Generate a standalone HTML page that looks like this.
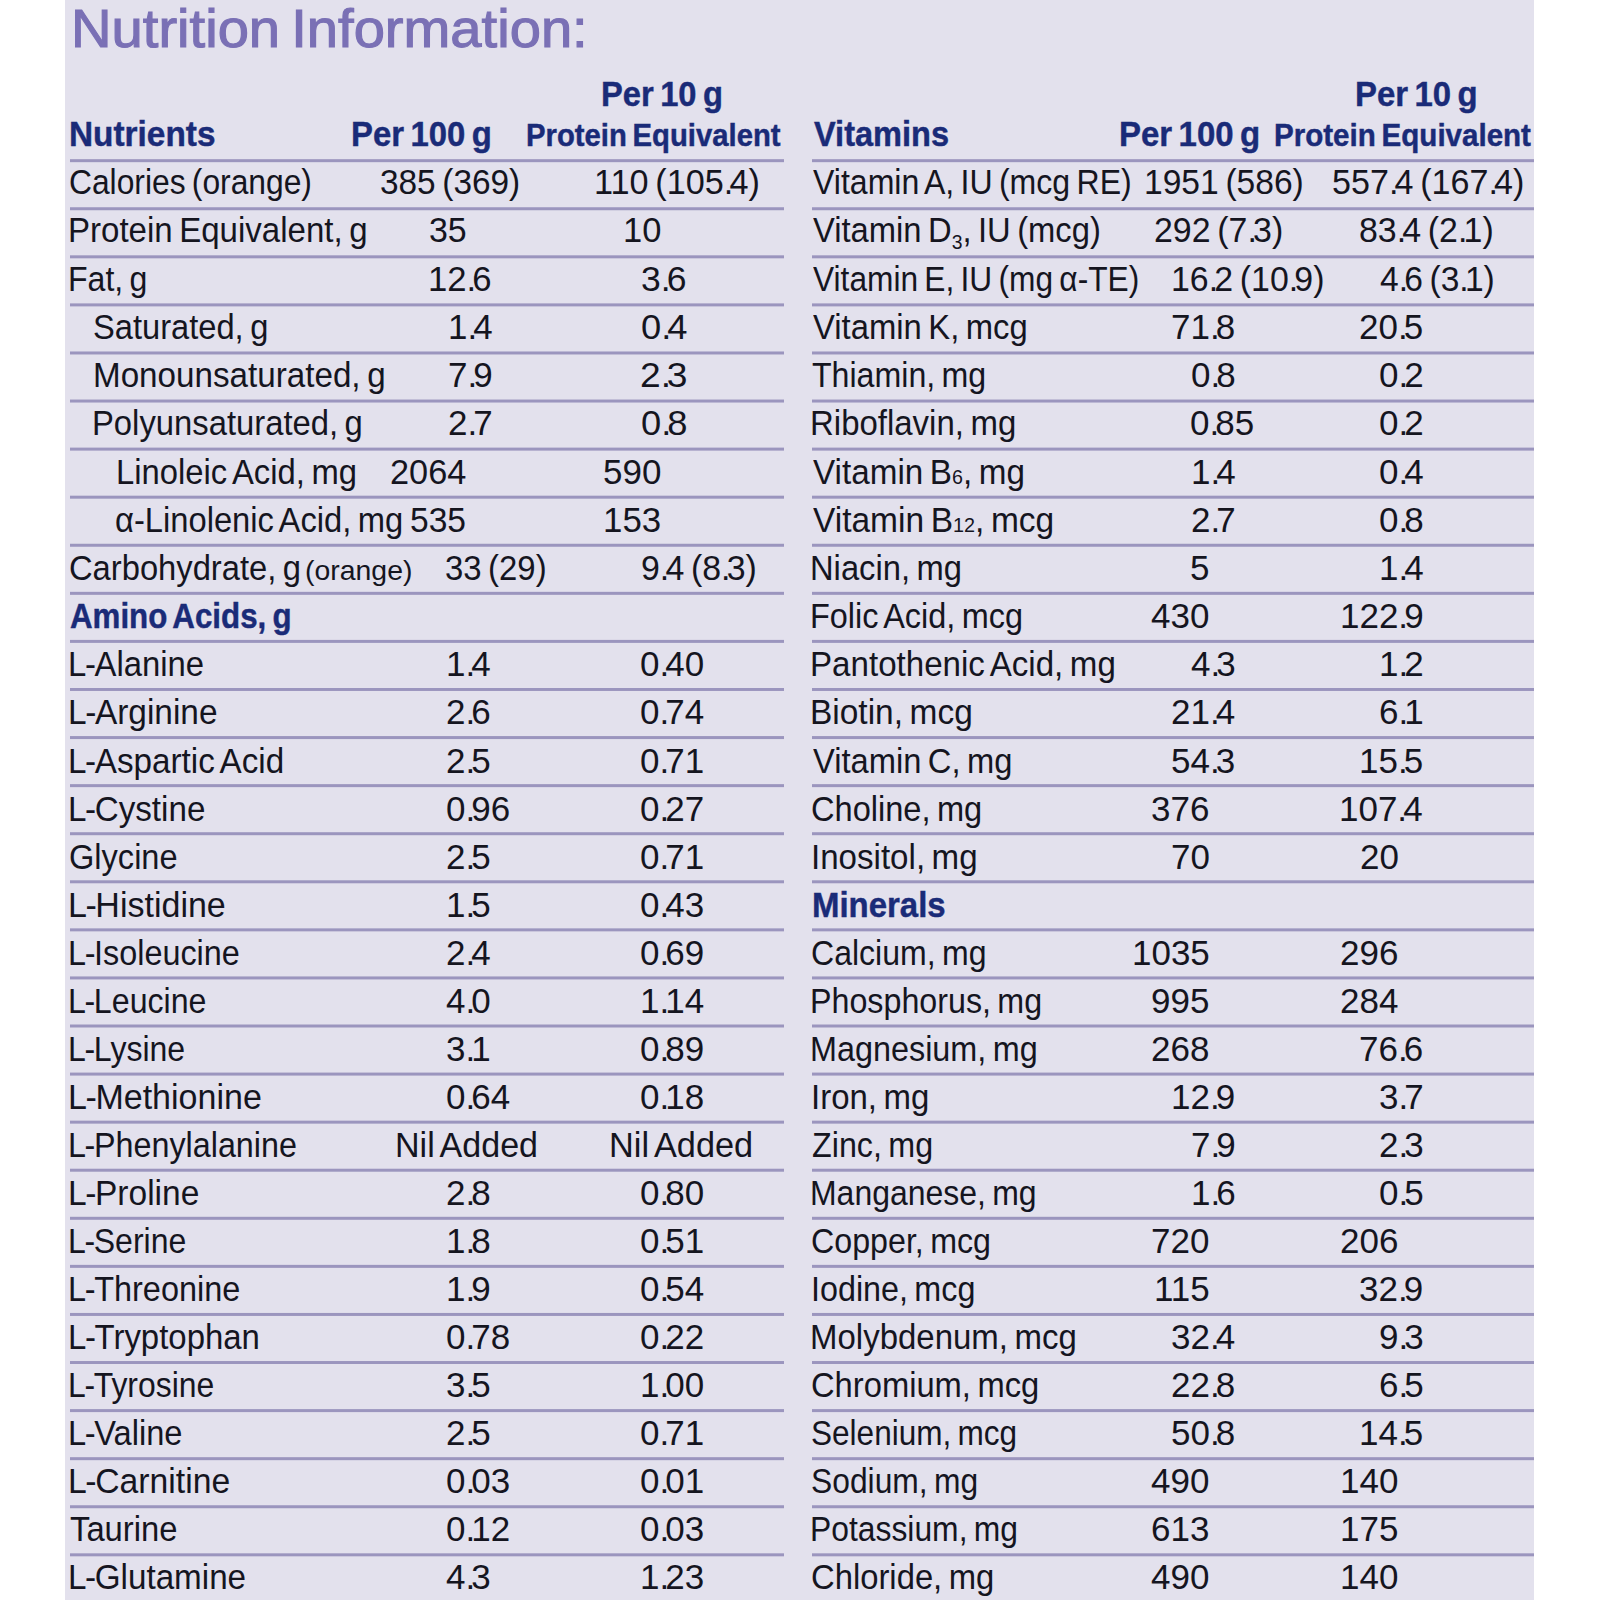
<!DOCTYPE html>
<html><head><meta charset="utf-8"><title>Nutrition Information</title>
<style>
html,body{margin:0;padding:0;background:#fff;width:1600px;height:1600px;overflow:hidden}
.panel{position:absolute;left:65px;top:0;width:1469px;height:1600px;background:#e3e1ed}
.t{position:absolute;white-space:pre;word-spacing:-0.08em;font-family:"Liberation Sans",Arial,sans-serif;transform-origin:0 0}
.ln{position:absolute;height:1px}
b{}
sub{font-size:21px;vertical-align:-7px;line-height:0}
.sm{font-size:21px}
.dp{letter-spacing:-4px}
.lh{letter-spacing:-1.5px}
</style></head><body>
<div class="panel"></div>
<div class=ln style='left:70px;top:159px;width:714px;background:rgba(155,149,190,0.83)'></div><div class=ln style='left:812px;top:159px;width:722px;background:rgba(155,149,190,0.83)'></div><div class=ln style='left:70px;top:160px;width:714px;background:rgba(155,149,190,1.00)'></div><div class=ln style='left:812px;top:160px;width:722px;background:rgba(155,149,190,1.00)'></div><div class=ln style='left:70px;top:161px;width:714px;background:rgba(155,149,190,1.00)'></div><div class=ln style='left:812px;top:161px;width:722px;background:rgba(155,149,190,1.00)'></div><div class=ln style='left:70px;top:162px;width:714px;background:rgba(155,149,190,0.17)'></div><div class=ln style='left:812px;top:162px;width:722px;background:rgba(155,149,190,0.17)'></div><div class=ln style='left:70px;top:207px;width:714px;background:rgba(155,149,190,0.76)'></div><div class=ln style='left:812px;top:207px;width:722px;background:rgba(155,149,190,0.76)'></div><div class=ln style='left:70px;top:208px;width:714px;background:rgba(155,149,190,1.00)'></div><div class=ln style='left:812px;top:208px;width:722px;background:rgba(155,149,190,1.00)'></div><div class=ln style='left:70px;top:209px;width:714px;background:rgba(155,149,190,1.00)'></div><div class=ln style='left:812px;top:209px;width:722px;background:rgba(155,149,190,1.00)'></div><div class=ln style='left:70px;top:210px;width:714px;background:rgba(155,149,190,0.24)'></div><div class=ln style='left:812px;top:210px;width:722px;background:rgba(155,149,190,0.24)'></div><div class=ln style='left:70px;top:255px;width:714px;background:rgba(155,149,190,0.68)'></div><div class=ln style='left:812px;top:255px;width:722px;background:rgba(155,149,190,0.68)'></div><div class=ln style='left:70px;top:256px;width:714px;background:rgba(155,149,190,1.00)'></div><div class=ln style='left:812px;top:256px;width:722px;background:rgba(155,149,190,1.00)'></div><div class=ln style='left:70px;top:257px;width:714px;background:rgba(155,149,190,1.00)'></div><div class=ln style='left:812px;top:257px;width:722px;background:rgba(155,149,190,1.00)'></div><div class=ln style='left:70px;top:258px;width:714px;background:rgba(155,149,190,0.32)'></div><div class=ln style='left:812px;top:258px;width:722px;background:rgba(155,149,190,0.32)'></div><div class=ln style='left:70px;top:303px;width:714px;background:rgba(155,149,190,0.61)'></div><div class=ln style='left:812px;top:303px;width:722px;background:rgba(155,149,190,0.61)'></div><div class=ln style='left:70px;top:304px;width:714px;background:rgba(155,149,190,1.00)'></div><div class=ln style='left:812px;top:304px;width:722px;background:rgba(155,149,190,1.00)'></div><div class=ln style='left:70px;top:305px;width:714px;background:rgba(155,149,190,1.00)'></div><div class=ln style='left:812px;top:305px;width:722px;background:rgba(155,149,190,1.00)'></div><div class=ln style='left:70px;top:306px;width:714px;background:rgba(155,149,190,0.39)'></div><div class=ln style='left:812px;top:306px;width:722px;background:rgba(155,149,190,0.39)'></div><div class=ln style='left:70px;top:351px;width:714px;background:rgba(155,149,190,0.53)'></div><div class=ln style='left:812px;top:351px;width:722px;background:rgba(155,149,190,0.53)'></div><div class=ln style='left:70px;top:352px;width:714px;background:rgba(155,149,190,1.00)'></div><div class=ln style='left:812px;top:352px;width:722px;background:rgba(155,149,190,1.00)'></div><div class=ln style='left:70px;top:353px;width:714px;background:rgba(155,149,190,1.00)'></div><div class=ln style='left:812px;top:353px;width:722px;background:rgba(155,149,190,1.00)'></div><div class=ln style='left:70px;top:354px;width:714px;background:rgba(155,149,190,0.47)'></div><div class=ln style='left:812px;top:354px;width:722px;background:rgba(155,149,190,0.47)'></div><div class=ln style='left:70px;top:399px;width:714px;background:rgba(155,149,190,0.46)'></div><div class=ln style='left:812px;top:399px;width:722px;background:rgba(155,149,190,0.46)'></div><div class=ln style='left:70px;top:400px;width:714px;background:rgba(155,149,190,1.00)'></div><div class=ln style='left:812px;top:400px;width:722px;background:rgba(155,149,190,1.00)'></div><div class=ln style='left:70px;top:401px;width:714px;background:rgba(155,149,190,1.00)'></div><div class=ln style='left:812px;top:401px;width:722px;background:rgba(155,149,190,1.00)'></div><div class=ln style='left:70px;top:402px;width:714px;background:rgba(155,149,190,0.54)'></div><div class=ln style='left:812px;top:402px;width:722px;background:rgba(155,149,190,0.54)'></div><div class=ln style='left:70px;top:447px;width:714px;background:rgba(155,149,190,0.39)'></div><div class=ln style='left:812px;top:447px;width:722px;background:rgba(155,149,190,0.39)'></div><div class=ln style='left:70px;top:448px;width:714px;background:rgba(155,149,190,1.00)'></div><div class=ln style='left:812px;top:448px;width:722px;background:rgba(155,149,190,1.00)'></div><div class=ln style='left:70px;top:449px;width:714px;background:rgba(155,149,190,1.00)'></div><div class=ln style='left:812px;top:449px;width:722px;background:rgba(155,149,190,1.00)'></div><div class=ln style='left:70px;top:450px;width:714px;background:rgba(155,149,190,0.61)'></div><div class=ln style='left:812px;top:450px;width:722px;background:rgba(155,149,190,0.61)'></div><div class=ln style='left:70px;top:495px;width:714px;background:rgba(155,149,190,0.31)'></div><div class=ln style='left:812px;top:495px;width:722px;background:rgba(155,149,190,0.31)'></div><div class=ln style='left:70px;top:496px;width:714px;background:rgba(155,149,190,1.00)'></div><div class=ln style='left:812px;top:496px;width:722px;background:rgba(155,149,190,1.00)'></div><div class=ln style='left:70px;top:497px;width:714px;background:rgba(155,149,190,1.00)'></div><div class=ln style='left:812px;top:497px;width:722px;background:rgba(155,149,190,1.00)'></div><div class=ln style='left:70px;top:498px;width:714px;background:rgba(155,149,190,0.69)'></div><div class=ln style='left:812px;top:498px;width:722px;background:rgba(155,149,190,0.69)'></div><div class=ln style='left:70px;top:543px;width:714px;background:rgba(155,149,190,0.24)'></div><div class=ln style='left:812px;top:543px;width:722px;background:rgba(155,149,190,0.24)'></div><div class=ln style='left:70px;top:544px;width:714px;background:rgba(155,149,190,1.00)'></div><div class=ln style='left:812px;top:544px;width:722px;background:rgba(155,149,190,1.00)'></div><div class=ln style='left:70px;top:545px;width:714px;background:rgba(155,149,190,1.00)'></div><div class=ln style='left:812px;top:545px;width:722px;background:rgba(155,149,190,1.00)'></div><div class=ln style='left:70px;top:546px;width:714px;background:rgba(155,149,190,0.76)'></div><div class=ln style='left:812px;top:546px;width:722px;background:rgba(155,149,190,0.76)'></div><div class=ln style='left:70px;top:591px;width:714px;background:rgba(155,149,190,0.16)'></div><div class=ln style='left:812px;top:591px;width:722px;background:rgba(155,149,190,0.16)'></div><div class=ln style='left:70px;top:592px;width:714px;background:rgba(155,149,190,1.00)'></div><div class=ln style='left:812px;top:592px;width:722px;background:rgba(155,149,190,1.00)'></div><div class=ln style='left:70px;top:593px;width:714px;background:rgba(155,149,190,1.00)'></div><div class=ln style='left:812px;top:593px;width:722px;background:rgba(155,149,190,1.00)'></div><div class=ln style='left:70px;top:594px;width:714px;background:rgba(155,149,190,0.84)'></div><div class=ln style='left:812px;top:594px;width:722px;background:rgba(155,149,190,0.84)'></div><div class=ln style='left:70px;top:639px;width:714px;background:rgba(155,149,190,0.09)'></div><div class=ln style='left:812px;top:639px;width:722px;background:rgba(155,149,190,0.09)'></div><div class=ln style='left:70px;top:640px;width:714px;background:rgba(155,149,190,1.00)'></div><div class=ln style='left:812px;top:640px;width:722px;background:rgba(155,149,190,1.00)'></div><div class=ln style='left:70px;top:641px;width:714px;background:rgba(155,149,190,1.00)'></div><div class=ln style='left:812px;top:641px;width:722px;background:rgba(155,149,190,1.00)'></div><div class=ln style='left:70px;top:642px;width:714px;background:rgba(155,149,190,0.91)'></div><div class=ln style='left:812px;top:642px;width:722px;background:rgba(155,149,190,0.91)'></div><div class=ln style='left:70px;top:688px;width:714px;background:rgba(155,149,190,1.00)'></div><div class=ln style='left:812px;top:688px;width:722px;background:rgba(155,149,190,1.00)'></div><div class=ln style='left:70px;top:689px;width:714px;background:rgba(155,149,190,1.00)'></div><div class=ln style='left:812px;top:689px;width:722px;background:rgba(155,149,190,1.00)'></div><div class=ln style='left:70px;top:690px;width:714px;background:rgba(155,149,190,0.98)'></div><div class=ln style='left:812px;top:690px;width:722px;background:rgba(155,149,190,0.98)'></div><div class=ln style='left:70px;top:736px;width:714px;background:rgba(155,149,190,0.94)'></div><div class=ln style='left:812px;top:736px;width:722px;background:rgba(155,149,190,0.94)'></div><div class=ln style='left:70px;top:737px;width:714px;background:rgba(155,149,190,1.00)'></div><div class=ln style='left:812px;top:737px;width:722px;background:rgba(155,149,190,1.00)'></div><div class=ln style='left:70px;top:738px;width:714px;background:rgba(155,149,190,1.00)'></div><div class=ln style='left:812px;top:738px;width:722px;background:rgba(155,149,190,1.00)'></div><div class=ln style='left:70px;top:739px;width:714px;background:rgba(155,149,190,0.06)'></div><div class=ln style='left:812px;top:739px;width:722px;background:rgba(155,149,190,0.06)'></div><div class=ln style='left:70px;top:784px;width:714px;background:rgba(155,149,190,0.87)'></div><div class=ln style='left:812px;top:784px;width:722px;background:rgba(155,149,190,0.87)'></div><div class=ln style='left:70px;top:785px;width:714px;background:rgba(155,149,190,1.00)'></div><div class=ln style='left:812px;top:785px;width:722px;background:rgba(155,149,190,1.00)'></div><div class=ln style='left:70px;top:786px;width:714px;background:rgba(155,149,190,1.00)'></div><div class=ln style='left:812px;top:786px;width:722px;background:rgba(155,149,190,1.00)'></div><div class=ln style='left:70px;top:787px;width:714px;background:rgba(155,149,190,0.13)'></div><div class=ln style='left:812px;top:787px;width:722px;background:rgba(155,149,190,0.13)'></div><div class=ln style='left:70px;top:832px;width:714px;background:rgba(155,149,190,0.79)'></div><div class=ln style='left:812px;top:832px;width:722px;background:rgba(155,149,190,0.79)'></div><div class=ln style='left:70px;top:833px;width:714px;background:rgba(155,149,190,1.00)'></div><div class=ln style='left:812px;top:833px;width:722px;background:rgba(155,149,190,1.00)'></div><div class=ln style='left:70px;top:834px;width:714px;background:rgba(155,149,190,1.00)'></div><div class=ln style='left:812px;top:834px;width:722px;background:rgba(155,149,190,1.00)'></div><div class=ln style='left:70px;top:835px;width:714px;background:rgba(155,149,190,0.21)'></div><div class=ln style='left:812px;top:835px;width:722px;background:rgba(155,149,190,0.21)'></div><div class=ln style='left:70px;top:880px;width:714px;background:rgba(155,149,190,0.72)'></div><div class=ln style='left:812px;top:880px;width:722px;background:rgba(155,149,190,0.72)'></div><div class=ln style='left:70px;top:881px;width:714px;background:rgba(155,149,190,1.00)'></div><div class=ln style='left:812px;top:881px;width:722px;background:rgba(155,149,190,1.00)'></div><div class=ln style='left:70px;top:882px;width:714px;background:rgba(155,149,190,1.00)'></div><div class=ln style='left:812px;top:882px;width:722px;background:rgba(155,149,190,1.00)'></div><div class=ln style='left:70px;top:883px;width:714px;background:rgba(155,149,190,0.28)'></div><div class=ln style='left:812px;top:883px;width:722px;background:rgba(155,149,190,0.28)'></div><div class=ln style='left:70px;top:928px;width:714px;background:rgba(155,149,190,0.65)'></div><div class=ln style='left:812px;top:928px;width:722px;background:rgba(155,149,190,0.65)'></div><div class=ln style='left:70px;top:929px;width:714px;background:rgba(155,149,190,1.00)'></div><div class=ln style='left:812px;top:929px;width:722px;background:rgba(155,149,190,1.00)'></div><div class=ln style='left:70px;top:930px;width:714px;background:rgba(155,149,190,1.00)'></div><div class=ln style='left:812px;top:930px;width:722px;background:rgba(155,149,190,1.00)'></div><div class=ln style='left:70px;top:931px;width:714px;background:rgba(155,149,190,0.35)'></div><div class=ln style='left:812px;top:931px;width:722px;background:rgba(155,149,190,0.35)'></div><div class=ln style='left:70px;top:976px;width:714px;background:rgba(155,149,190,0.57)'></div><div class=ln style='left:812px;top:976px;width:722px;background:rgba(155,149,190,0.57)'></div><div class=ln style='left:70px;top:977px;width:714px;background:rgba(155,149,190,1.00)'></div><div class=ln style='left:812px;top:977px;width:722px;background:rgba(155,149,190,1.00)'></div><div class=ln style='left:70px;top:978px;width:714px;background:rgba(155,149,190,1.00)'></div><div class=ln style='left:812px;top:978px;width:722px;background:rgba(155,149,190,1.00)'></div><div class=ln style='left:70px;top:979px;width:714px;background:rgba(155,149,190,0.43)'></div><div class=ln style='left:812px;top:979px;width:722px;background:rgba(155,149,190,0.43)'></div><div class=ln style='left:70px;top:1024px;width:714px;background:rgba(155,149,190,0.50)'></div><div class=ln style='left:812px;top:1024px;width:722px;background:rgba(155,149,190,0.50)'></div><div class=ln style='left:70px;top:1025px;width:714px;background:rgba(155,149,190,1.00)'></div><div class=ln style='left:812px;top:1025px;width:722px;background:rgba(155,149,190,1.00)'></div><div class=ln style='left:70px;top:1026px;width:714px;background:rgba(155,149,190,1.00)'></div><div class=ln style='left:812px;top:1026px;width:722px;background:rgba(155,149,190,1.00)'></div><div class=ln style='left:70px;top:1027px;width:714px;background:rgba(155,149,190,0.50)'></div><div class=ln style='left:812px;top:1027px;width:722px;background:rgba(155,149,190,0.50)'></div><div class=ln style='left:70px;top:1072px;width:714px;background:rgba(155,149,190,0.42)'></div><div class=ln style='left:812px;top:1072px;width:722px;background:rgba(155,149,190,0.42)'></div><div class=ln style='left:70px;top:1073px;width:714px;background:rgba(155,149,190,1.00)'></div><div class=ln style='left:812px;top:1073px;width:722px;background:rgba(155,149,190,1.00)'></div><div class=ln style='left:70px;top:1074px;width:714px;background:rgba(155,149,190,1.00)'></div><div class=ln style='left:812px;top:1074px;width:722px;background:rgba(155,149,190,1.00)'></div><div class=ln style='left:70px;top:1075px;width:714px;background:rgba(155,149,190,0.58)'></div><div class=ln style='left:812px;top:1075px;width:722px;background:rgba(155,149,190,0.58)'></div><div class=ln style='left:70px;top:1120px;width:714px;background:rgba(155,149,190,0.35)'></div><div class=ln style='left:812px;top:1120px;width:722px;background:rgba(155,149,190,0.35)'></div><div class=ln style='left:70px;top:1121px;width:714px;background:rgba(155,149,190,1.00)'></div><div class=ln style='left:812px;top:1121px;width:722px;background:rgba(155,149,190,1.00)'></div><div class=ln style='left:70px;top:1122px;width:714px;background:rgba(155,149,190,1.00)'></div><div class=ln style='left:812px;top:1122px;width:722px;background:rgba(155,149,190,1.00)'></div><div class=ln style='left:70px;top:1123px;width:714px;background:rgba(155,149,190,0.65)'></div><div class=ln style='left:812px;top:1123px;width:722px;background:rgba(155,149,190,0.65)'></div><div class=ln style='left:70px;top:1168px;width:714px;background:rgba(155,149,190,0.28)'></div><div class=ln style='left:812px;top:1168px;width:722px;background:rgba(155,149,190,0.28)'></div><div class=ln style='left:70px;top:1169px;width:714px;background:rgba(155,149,190,1.00)'></div><div class=ln style='left:812px;top:1169px;width:722px;background:rgba(155,149,190,1.00)'></div><div class=ln style='left:70px;top:1170px;width:714px;background:rgba(155,149,190,1.00)'></div><div class=ln style='left:812px;top:1170px;width:722px;background:rgba(155,149,190,1.00)'></div><div class=ln style='left:70px;top:1171px;width:714px;background:rgba(155,149,190,0.72)'></div><div class=ln style='left:812px;top:1171px;width:722px;background:rgba(155,149,190,0.72)'></div><div class=ln style='left:70px;top:1216px;width:714px;background:rgba(155,149,190,0.20)'></div><div class=ln style='left:812px;top:1216px;width:722px;background:rgba(155,149,190,0.20)'></div><div class=ln style='left:70px;top:1217px;width:714px;background:rgba(155,149,190,1.00)'></div><div class=ln style='left:812px;top:1217px;width:722px;background:rgba(155,149,190,1.00)'></div><div class=ln style='left:70px;top:1218px;width:714px;background:rgba(155,149,190,1.00)'></div><div class=ln style='left:812px;top:1218px;width:722px;background:rgba(155,149,190,1.00)'></div><div class=ln style='left:70px;top:1219px;width:714px;background:rgba(155,149,190,0.80)'></div><div class=ln style='left:812px;top:1219px;width:722px;background:rgba(155,149,190,0.80)'></div><div class=ln style='left:70px;top:1264px;width:714px;background:rgba(155,149,190,0.13)'></div><div class=ln style='left:812px;top:1264px;width:722px;background:rgba(155,149,190,0.13)'></div><div class=ln style='left:70px;top:1265px;width:714px;background:rgba(155,149,190,1.00)'></div><div class=ln style='left:812px;top:1265px;width:722px;background:rgba(155,149,190,1.00)'></div><div class=ln style='left:70px;top:1266px;width:714px;background:rgba(155,149,190,1.00)'></div><div class=ln style='left:812px;top:1266px;width:722px;background:rgba(155,149,190,1.00)'></div><div class=ln style='left:70px;top:1267px;width:714px;background:rgba(155,149,190,0.87)'></div><div class=ln style='left:812px;top:1267px;width:722px;background:rgba(155,149,190,0.87)'></div><div class=ln style='left:70px;top:1312px;width:714px;background:rgba(155,149,190,0.05)'></div><div class=ln style='left:812px;top:1312px;width:722px;background:rgba(155,149,190,0.05)'></div><div class=ln style='left:70px;top:1313px;width:714px;background:rgba(155,149,190,1.00)'></div><div class=ln style='left:812px;top:1313px;width:722px;background:rgba(155,149,190,1.00)'></div><div class=ln style='left:70px;top:1314px;width:714px;background:rgba(155,149,190,1.00)'></div><div class=ln style='left:812px;top:1314px;width:722px;background:rgba(155,149,190,1.00)'></div><div class=ln style='left:70px;top:1315px;width:714px;background:rgba(155,149,190,0.95)'></div><div class=ln style='left:812px;top:1315px;width:722px;background:rgba(155,149,190,0.95)'></div><div class=ln style='left:70px;top:1361px;width:714px;background:rgba(155,149,190,0.98)'></div><div class=ln style='left:812px;top:1361px;width:722px;background:rgba(155,149,190,0.98)'></div><div class=ln style='left:70px;top:1362px;width:714px;background:rgba(155,149,190,1.00)'></div><div class=ln style='left:812px;top:1362px;width:722px;background:rgba(155,149,190,1.00)'></div><div class=ln style='left:70px;top:1363px;width:714px;background:rgba(155,149,190,1.00)'></div><div class=ln style='left:812px;top:1363px;width:722px;background:rgba(155,149,190,1.00)'></div><div class=ln style='left:70px;top:1409px;width:714px;background:rgba(155,149,190,0.91)'></div><div class=ln style='left:812px;top:1409px;width:722px;background:rgba(155,149,190,0.91)'></div><div class=ln style='left:70px;top:1410px;width:714px;background:rgba(155,149,190,1.00)'></div><div class=ln style='left:812px;top:1410px;width:722px;background:rgba(155,149,190,1.00)'></div><div class=ln style='left:70px;top:1411px;width:714px;background:rgba(155,149,190,1.00)'></div><div class=ln style='left:812px;top:1411px;width:722px;background:rgba(155,149,190,1.00)'></div><div class=ln style='left:70px;top:1412px;width:714px;background:rgba(155,149,190,0.09)'></div><div class=ln style='left:812px;top:1412px;width:722px;background:rgba(155,149,190,0.09)'></div><div class=ln style='left:70px;top:1457px;width:714px;background:rgba(155,149,190,0.83)'></div><div class=ln style='left:812px;top:1457px;width:722px;background:rgba(155,149,190,0.83)'></div><div class=ln style='left:70px;top:1458px;width:714px;background:rgba(155,149,190,1.00)'></div><div class=ln style='left:812px;top:1458px;width:722px;background:rgba(155,149,190,1.00)'></div><div class=ln style='left:70px;top:1459px;width:714px;background:rgba(155,149,190,1.00)'></div><div class=ln style='left:812px;top:1459px;width:722px;background:rgba(155,149,190,1.00)'></div><div class=ln style='left:70px;top:1460px;width:714px;background:rgba(155,149,190,0.17)'></div><div class=ln style='left:812px;top:1460px;width:722px;background:rgba(155,149,190,0.17)'></div><div class=ln style='left:70px;top:1505px;width:714px;background:rgba(155,149,190,0.76)'></div><div class=ln style='left:812px;top:1505px;width:722px;background:rgba(155,149,190,0.76)'></div><div class=ln style='left:70px;top:1506px;width:714px;background:rgba(155,149,190,1.00)'></div><div class=ln style='left:812px;top:1506px;width:722px;background:rgba(155,149,190,1.00)'></div><div class=ln style='left:70px;top:1507px;width:714px;background:rgba(155,149,190,1.00)'></div><div class=ln style='left:812px;top:1507px;width:722px;background:rgba(155,149,190,1.00)'></div><div class=ln style='left:70px;top:1508px;width:714px;background:rgba(155,149,190,0.24)'></div><div class=ln style='left:812px;top:1508px;width:722px;background:rgba(155,149,190,0.24)'></div><div class=ln style='left:70px;top:1553px;width:714px;background:rgba(155,149,190,0.68)'></div><div class=ln style='left:812px;top:1553px;width:722px;background:rgba(155,149,190,0.68)'></div><div class=ln style='left:70px;top:1554px;width:714px;background:rgba(155,149,190,1.00)'></div><div class=ln style='left:812px;top:1554px;width:722px;background:rgba(155,149,190,1.00)'></div><div class=ln style='left:70px;top:1555px;width:714px;background:rgba(155,149,190,1.00)'></div><div class=ln style='left:812px;top:1555px;width:722px;background:rgba(155,149,190,1.00)'></div><div class=ln style='left:70px;top:1556px;width:714px;background:rgba(155,149,190,0.32)'></div><div class=ln style='left:812px;top:1556px;width:722px;background:rgba(155,149,190,0.32)'></div>
<div class=t style='left:71.26px;top:-1.00px;font-size:53px;line-height:59px;font-weight:400;color:#7a70b5;transform:scaleX(1.0595);-webkit-text-stroke:1.1px'>Nutrition Information:</div><div class=t style='left:601.13px;top:74.00px;font-size:35px;line-height:39px;font-weight:700;color:#1a2b78;transform:scaleX(0.9333);-webkit-text-stroke:0.45px'>Per 10 g</div><div class=t style='left:69.09px;top:114.00px;font-size:35px;line-height:39px;font-weight:700;color:#1a2b78;transform:scaleX(0.9533);-webkit-text-stroke:0.45px'>Nutrients</div><div class=t style='left:351.12px;top:114.00px;font-size:35px;line-height:39px;font-weight:700;color:#1a2b78;transform:scaleX(0.9384);-webkit-text-stroke:0.45px'>Per 100 g</div><div class=t style='left:526.11px;top:118.00px;font-size:31px;line-height:35px;font-weight:700;color:#1a2b78;transform:scaleX(0.9438);-webkit-text-stroke:0.45px'>Protein Equivalent</div><div class=t style='left:1355.12px;top:74.00px;font-size:35px;line-height:39px;font-weight:700;color:#1a2b78;transform:scaleX(0.9397);-webkit-text-stroke:0.45px'>Per 10 g</div><div class=t style='left:813.70px;top:114.00px;font-size:35px;line-height:39px;font-weight:700;color:#1a2b78;transform:scaleX(0.9292);-webkit-text-stroke:0.45px'>Vitamins</div><div class=t style='left:1118.72px;top:114.00px;font-size:35px;line-height:39px;font-weight:700;color:#1a2b78;transform:scaleX(0.9411);-webkit-text-stroke:0.45px'>Per 100 g</div><div class=t style='left:1274.09px;top:118.00px;font-size:31px;line-height:35px;font-weight:700;color:#1a2b78;transform:scaleX(0.9528);-webkit-text-stroke:0.45px'>Protein Equivalent</div><div class=t style='left:69.21px;top:162.00px;font-size:35.5px;line-height:40px;font-weight:400;color:#15151f;transform:scaleX(0.8951)'>Calories (orange)</div><div class=t style='left:379.82px;top:162.00px;font-size:35.5px;line-height:40px;font-weight:400;color:#15151f;transform:scaleX(0.9400)'>385 (369)</div><div class=t style='left:594.11px;top:162.00px;font-size:35.5px;line-height:40px;font-weight:400;color:#15151f;transform:scaleX(0.9641)'>110 (105<span class=dp>.</span>4)</div><div class=t style='left:68.21px;top:210.00px;font-size:35.5px;line-height:40px;font-weight:400;color:#15151f;transform:scaleX(0.9306)'>Protein Equivalent, g</div><div class=t style='left:428.69px;top:210.00px;font-size:35.5px;line-height:40px;font-weight:400;color:#15151f;transform:scaleX(0.9556)'>35</div><div class=t style='left:623.09px;top:210.00px;font-size:35.5px;line-height:40px;font-weight:400;color:#15151f;transform:scaleX(0.9714)'>10</div><div class=t style='left:68.29px;top:259.00px;font-size:35.5px;line-height:40px;font-weight:400;color:#15151f;transform:scaleX(0.9036)'>Fat, g</div><div class=t style='left:428.47px;top:259.00px;font-size:35.5px;line-height:40px;font-weight:400;color:#15151f;transform:scaleX(0.9770)'>12<span class=dp>.</span>6</div><div class=t style='left:641.00px;top:259.00px;font-size:35.5px;line-height:40px;font-weight:400;color:#15151f;transform:scaleX(1.0000)'>3<span class=dp>.</span>6</div><div class=t style='left:92.66px;top:307.00px;font-size:35.5px;line-height:40px;font-weight:400;color:#15151f;transform:scaleX(0.9199)'>Saturated, g</div><div class=t style='left:447.75px;top:307.00px;font-size:35.5px;line-height:40px;font-weight:400;color:#15151f;transform:scaleX(0.9829)'>1<span class=dp>.</span>4</div><div class=t style='left:640.98px;top:307.00px;font-size:35.5px;line-height:40px;font-weight:400;color:#15151f;transform:scaleX(1.0233)'>0<span class=dp>.</span>4</div><div class=t style='left:92.69px;top:355.00px;font-size:35.5px;line-height:40px;font-weight:400;color:#15151f;transform:scaleX(0.9351)'>Monounsaturated, g</div><div class=t style='left:447.63px;top:355.00px;font-size:35.5px;line-height:40px;font-weight:400;color:#15151f;transform:scaleX(0.9857)'>7<span class=dp>.</span>9</div><div class=t style='left:639.90px;top:355.00px;font-size:35.5px;line-height:40px;font-weight:400;color:#15151f;transform:scaleX(1.0476)'>2<span class=dp>.</span>3</div><div class=t style='left:91.73px;top:403.00px;font-size:35.5px;line-height:40px;font-weight:400;color:#15151f;transform:scaleX(0.9236)'>Polyunsaturated, g</div><div class=t style='left:447.63px;top:403.00px;font-size:35.5px;line-height:40px;font-weight:400;color:#15151f;transform:scaleX(0.9857)'>2<span class=dp>.</span>7</div><div class=t style='left:640.98px;top:403.00px;font-size:35.5px;line-height:40px;font-weight:400;color:#15151f;transform:scaleX(1.0233)'>0<span class=dp>.</span>8</div><div class=t style='left:116.23px;top:452.00px;font-size:35.5px;line-height:40px;font-weight:400;color:#15151f;transform:scaleX(0.9243)'>Linoleic Acid, mg</div><div class=t style='left:390.07px;top:452.00px;font-size:35.5px;line-height:40px;font-weight:400;color:#15151f;transform:scaleX(0.9658)'>2064</div><div class=t style='left:602.83px;top:452.00px;font-size:35.5px;line-height:40px;font-weight:400;color:#15151f;transform:scaleX(0.9857)'>590</div><div class=t style='left:115.08px;top:500.00px;font-size:35.5px;line-height:40px;font-weight:400;color:#15151f;transform:scaleX(0.9214)'>α-Linolenic Acid, mg</div><div class=t style='left:410.11px;top:500.00px;font-size:35.5px;line-height:40px;font-weight:400;color:#15151f;transform:scaleX(0.9464)'>535</div><div class=t style='left:603.05px;top:500.00px;font-size:35.5px;line-height:40px;font-weight:400;color:#15151f;transform:scaleX(0.9818)'>153</div><div class=t style='left:69.16px;top:548.00px;font-size:35.5px;line-height:40px;font-weight:400;color:#15151f;transform:scaleX(0.9215)'>Carbohydrate, g</div><div class=t style='left:304.97px;top:555.00px;font-size:28px;line-height:31px;font-weight:400;color:#15151f;transform:scaleX(1.0147)'>(orange)</div><div class=t style='left:444.85px;top:548.00px;font-size:35.5px;line-height:40px;font-weight:400;color:#15151f;transform:scaleX(0.9267)'>33 (29)</div><div class=t style='left:641.09px;top:548.00px;font-size:35.5px;line-height:40px;font-weight:400;color:#15151f;transform:scaleX(0.9538)'>9<span class=dp>.</span>4 (8<span class=dp>.</span>3)</div><div class=t style='left:70.11px;top:596.00px;font-size:35px;line-height:39px;font-weight:700;color:#1a2b78;transform:scaleX(0.8939);-webkit-text-stroke:0.45px'>Amino Acids, g</div><div class=t style='left:68.22px;top:644.00px;font-size:35.5px;line-height:40px;font-weight:400;color:#15151f;transform:scaleX(0.9261)'><span class=lh>L-</span>Alanine</div><div class=t style='left:446.30px;top:644.00px;font-size:35.5px;line-height:40px;font-weight:400;color:#15151f;transform:scaleX(0.9850)'>1<span class=dp>.</span>4</div><div class=t style='left:640.30px;top:644.00px;font-size:35.5px;line-height:40px;font-weight:400;color:#15151f;transform:scaleX(0.9850)'>0<span class=dp>.</span>40</div><div class=t style='left:68.18px;top:692.00px;font-size:35.5px;line-height:40px;font-weight:400;color:#15151f;transform:scaleX(0.9416)'><span class=lh>L-</span>Arginine</div><div class=t style='left:446.30px;top:692.00px;font-size:35.5px;line-height:40px;font-weight:400;color:#15151f;transform:scaleX(0.9850)'>2<span class=dp>.</span>6</div><div class=t style='left:640.30px;top:692.00px;font-size:35.5px;line-height:40px;font-weight:400;color:#15151f;transform:scaleX(0.9850)'>0<span class=dp>.</span>74</div><div class=t style='left:68.19px;top:741.00px;font-size:35.5px;line-height:40px;font-weight:400;color:#15151f;transform:scaleX(0.9358)'><span class=lh>L-</span>Aspartic Acid</div><div class=t style='left:446.30px;top:741.00px;font-size:35.5px;line-height:40px;font-weight:400;color:#15151f;transform:scaleX(0.9850)'>2<span class=dp>.</span>5</div><div class=t style='left:640.30px;top:741.00px;font-size:35.5px;line-height:40px;font-weight:400;color:#15151f;transform:scaleX(0.9850)'>0<span class=dp>.</span>71</div><div class=t style='left:68.20px;top:789.00px;font-size:35.5px;line-height:40px;font-weight:400;color:#15151f;transform:scaleX(0.9349)'><span class=lh>L-</span>Cystine</div><div class=t style='left:446.30px;top:789.00px;font-size:35.5px;line-height:40px;font-weight:400;color:#15151f;transform:scaleX(0.9850)'>0<span class=dp>.</span>96</div><div class=t style='left:640.30px;top:789.00px;font-size:35.5px;line-height:40px;font-weight:400;color:#15151f;transform:scaleX(0.9850)'>0<span class=dp>.</span>27</div><div class=t style='left:69.17px;top:837.00px;font-size:35.5px;line-height:40px;font-weight:400;color:#15151f;transform:scaleX(0.9174)'>Glycine</div><div class=t style='left:446.30px;top:837.00px;font-size:35.5px;line-height:40px;font-weight:400;color:#15151f;transform:scaleX(0.9850)'>2<span class=dp>.</span>5</div><div class=t style='left:640.30px;top:837.00px;font-size:35.5px;line-height:40px;font-weight:400;color:#15151f;transform:scaleX(0.9850)'>0<span class=dp>.</span>71</div><div class=t style='left:68.13px;top:885.00px;font-size:35.5px;line-height:40px;font-weight:400;color:#15151f;transform:scaleX(0.9578)'><span class=lh>L-</span>Histidine</div><div class=t style='left:446.30px;top:885.00px;font-size:35.5px;line-height:40px;font-weight:400;color:#15151f;transform:scaleX(0.9850)'>1<span class=dp>.</span>5</div><div class=t style='left:640.30px;top:885.00px;font-size:35.5px;line-height:40px;font-weight:400;color:#15151f;transform:scaleX(0.9850)'>0<span class=dp>.</span>43</div><div class=t style='left:68.26px;top:933.00px;font-size:35.5px;line-height:40px;font-weight:400;color:#15151f;transform:scaleX(0.9117)'><span class=lh>L-</span>Isoleucine</div><div class=t style='left:446.30px;top:933.00px;font-size:35.5px;line-height:40px;font-weight:400;color:#15151f;transform:scaleX(0.9850)'>2<span class=dp>.</span>4</div><div class=t style='left:640.30px;top:933.00px;font-size:35.5px;line-height:40px;font-weight:400;color:#15151f;transform:scaleX(0.9850)'>0<span class=dp>.</span>69</div><div class=t style='left:68.28px;top:981.00px;font-size:35.5px;line-height:40px;font-weight:400;color:#15151f;transform:scaleX(0.9054)'><span class=lh>L-</span>Leucine</div><div class=t style='left:446.30px;top:981.00px;font-size:35.5px;line-height:40px;font-weight:400;color:#15151f;transform:scaleX(0.9850)'>4<span class=dp>.</span>0</div><div class=t style='left:640.30px;top:981.00px;font-size:35.5px;line-height:40px;font-weight:400;color:#15151f;transform:scaleX(0.9850)'>1<span class=dp>.</span>14</div><div class=t style='left:68.29px;top:1029.00px;font-size:35.5px;line-height:40px;font-weight:400;color:#15151f;transform:scaleX(0.9020)'><span class=lh>L-</span>Lysine</div><div class=t style='left:446.30px;top:1029.00px;font-size:35.5px;line-height:40px;font-weight:400;color:#15151f;transform:scaleX(0.9850)'>3<span class=dp>.</span>1</div><div class=t style='left:640.30px;top:1029.00px;font-size:35.5px;line-height:40px;font-weight:400;color:#15151f;transform:scaleX(0.9850)'>0<span class=dp>.</span>89</div><div class=t style='left:68.12px;top:1077.00px;font-size:35.5px;line-height:40px;font-weight:400;color:#15151f;transform:scaleX(0.9583)'><span class=lh>L-</span>Methionine</div><div class=t style='left:446.30px;top:1077.00px;font-size:35.5px;line-height:40px;font-weight:400;color:#15151f;transform:scaleX(0.9850)'>0<span class=dp>.</span>64</div><div class=t style='left:640.30px;top:1077.00px;font-size:35.5px;line-height:40px;font-weight:400;color:#15151f;transform:scaleX(0.9850)'>0<span class=dp>.</span>18</div><div class=t style='left:68.27px;top:1125.00px;font-size:35.5px;line-height:40px;font-weight:400;color:#15151f;transform:scaleX(0.9099)'><span class=lh>L-</span>Phenylalanine</div><div class=t style='left:395.32px;top:1125.00px;font-size:35.5px;line-height:40px;font-weight:400;color:#15151f;transform:scaleX(0.9590)'>Nil Added</div><div class=t style='left:608.90px;top:1125.00px;font-size:35.5px;line-height:40px;font-weight:400;color:#15151f;transform:scaleX(0.9667)'>Nil Added</div><div class=t style='left:68.17px;top:1173.00px;font-size:35.5px;line-height:40px;font-weight:400;color:#15151f;transform:scaleX(0.9440)'><span class=lh>L-</span>Proline</div><div class=t style='left:446.30px;top:1173.00px;font-size:35.5px;line-height:40px;font-weight:400;color:#15151f;transform:scaleX(0.9850)'>2<span class=dp>.</span>8</div><div class=t style='left:640.30px;top:1173.00px;font-size:35.5px;line-height:40px;font-weight:400;color:#15151f;transform:scaleX(0.9850)'>0<span class=dp>.</span>80</div><div class=t style='left:68.30px;top:1221.00px;font-size:35.5px;line-height:40px;font-weight:400;color:#15151f;transform:scaleX(0.9016)'><span class=lh>L-</span>Serine</div><div class=t style='left:446.30px;top:1221.00px;font-size:35.5px;line-height:40px;font-weight:400;color:#15151f;transform:scaleX(0.9850)'>1<span class=dp>.</span>8</div><div class=t style='left:640.30px;top:1221.00px;font-size:35.5px;line-height:40px;font-weight:400;color:#15151f;transform:scaleX(0.9850)'>0<span class=dp>.</span>51</div><div class=t style='left:68.26px;top:1269.00px;font-size:35.5px;line-height:40px;font-weight:400;color:#15151f;transform:scaleX(0.9144)'><span class=lh>L-</span>Threonine</div><div class=t style='left:446.30px;top:1269.00px;font-size:35.5px;line-height:40px;font-weight:400;color:#15151f;transform:scaleX(0.9850)'>1<span class=dp>.</span>9</div><div class=t style='left:640.30px;top:1269.00px;font-size:35.5px;line-height:40px;font-weight:400;color:#15151f;transform:scaleX(0.9850)'>0<span class=dp>.</span>54</div><div class=t style='left:68.22px;top:1317.00px;font-size:35.5px;line-height:40px;font-weight:400;color:#15151f;transform:scaleX(0.9279)'><span class=lh>L-</span>Tryptophan</div><div class=t style='left:446.30px;top:1317.00px;font-size:35.5px;line-height:40px;font-weight:400;color:#15151f;transform:scaleX(0.9850)'>0<span class=dp>.</span>78</div><div class=t style='left:640.30px;top:1317.00px;font-size:35.5px;line-height:40px;font-weight:400;color:#15151f;transform:scaleX(0.9850)'>0<span class=dp>.</span>22</div><div class=t style='left:68.30px;top:1365.00px;font-size:35.5px;line-height:40px;font-weight:400;color:#15151f;transform:scaleX(0.8987)'><span class=lh>L-</span>Tyrosine</div><div class=t style='left:446.30px;top:1365.00px;font-size:35.5px;line-height:40px;font-weight:400;color:#15151f;transform:scaleX(0.9850)'>3<span class=dp>.</span>5</div><div class=t style='left:640.30px;top:1365.00px;font-size:35.5px;line-height:40px;font-weight:400;color:#15151f;transform:scaleX(0.9850)'>1<span class=dp>.</span>00</div><div class=t style='left:68.24px;top:1413.00px;font-size:35.5px;line-height:40px;font-weight:400;color:#15151f;transform:scaleX(0.9187)'><span class=lh>L-</span>Valine</div><div class=t style='left:446.30px;top:1413.00px;font-size:35.5px;line-height:40px;font-weight:400;color:#15151f;transform:scaleX(0.9850)'>2<span class=dp>.</span>5</div><div class=t style='left:640.30px;top:1413.00px;font-size:35.5px;line-height:40px;font-weight:400;color:#15151f;transform:scaleX(0.9850)'>0<span class=dp>.</span>71</div><div class=t style='left:68.15px;top:1461.00px;font-size:35.5px;line-height:40px;font-weight:400;color:#15151f;transform:scaleX(0.9503)'><span class=lh>L-</span>Carnitine</div><div class=t style='left:446.30px;top:1461.00px;font-size:35.5px;line-height:40px;font-weight:400;color:#15151f;transform:scaleX(0.9850)'>0<span class=dp>.</span>03</div><div class=t style='left:640.30px;top:1461.00px;font-size:35.5px;line-height:40px;font-weight:400;color:#15151f;transform:scaleX(0.9850)'>0<span class=dp>.</span>01</div><div class=t style='left:70.08px;top:1509.00px;font-size:35.5px;line-height:40px;font-weight:400;color:#15151f;transform:scaleX(0.9232)'>Taurine</div><div class=t style='left:446.30px;top:1509.00px;font-size:35.5px;line-height:40px;font-weight:400;color:#15151f;transform:scaleX(0.9850)'>0<span class=dp>.</span>12</div><div class=t style='left:640.30px;top:1509.00px;font-size:35.5px;line-height:40px;font-weight:400;color:#15151f;transform:scaleX(0.9850)'>0<span class=dp>.</span>03</div><div class=t style='left:68.19px;top:1557.00px;font-size:35.5px;line-height:40px;font-weight:400;color:#15151f;transform:scaleX(0.9355)'><span class=lh>L-</span>Glutamine</div><div class=t style='left:446.30px;top:1557.00px;font-size:35.5px;line-height:40px;font-weight:400;color:#15151f;transform:scaleX(0.9850)'>4<span class=dp>.</span>3</div><div class=t style='left:640.30px;top:1557.00px;font-size:35.5px;line-height:40px;font-weight:400;color:#15151f;transform:scaleX(0.9850)'>1<span class=dp>.</span>23</div><div class=t style='left:813.00px;top:162.00px;font-size:35.5px;line-height:40px;font-weight:400;color:#15151f;transform:scaleX(0.9031)'>Vitamin A, IU (mcg RE)</div><div class=t style='left:1143.96px;top:162.00px;font-size:35.5px;line-height:40px;font-weight:400;color:#15151f;transform:scaleX(0.9463)'>1951 (586)</div><div class=t style='left:1331.88px;top:162.00px;font-size:35.5px;line-height:40px;font-weight:400;color:#15151f;transform:scaleX(0.9602)'>557<span class=dp>.</span>4 (167<span class=dp>.</span>4)</div><div class=t style='left:813.00px;top:210.00px;font-size:35.5px;line-height:40px;font-weight:400;color:#15151f;transform:scaleX(0.9218)'>Vitamin D<sub>3</sub>, IU (mcg)</div><div class=t style='left:1154.49px;top:210.00px;font-size:35.5px;line-height:40px;font-weight:400;color:#15151f;transform:scaleX(0.9550)'>292 (7<span class=dp>.</span>3)</div><div class=t style='left:1359.39px;top:210.00px;font-size:35.5px;line-height:40px;font-weight:400;color:#15151f;transform:scaleX(0.9540)'>83<span class=dp>.</span>4 (2<span class=dp>.</span>1)</div><div class=t style='left:813.00px;top:259.00px;font-size:35.5px;line-height:40px;font-weight:400;color:#15151f;transform:scaleX(0.8926)'>Vitamin E, IU (mg α-TE)</div><div class=t style='left:1171.14px;top:259.00px;font-size:35.5px;line-height:40px;font-weight:400;color:#15151f;transform:scaleX(0.9538)'>16<span class=dp>.</span>2 (10<span class=dp>.</span>9)</div><div class=t style='left:1379.56px;top:259.00px;font-size:35.5px;line-height:40px;font-weight:400;color:#15151f;transform:scaleX(0.9449)'>4<span class=dp>.</span>6 (3<span class=dp>.</span>1)</div><div class=t style='left:813.00px;top:307.00px;font-size:35.5px;line-height:40px;font-weight:400;color:#15151f;transform:scaleX(0.9239)'>Vitamin K, mcg</div><div class=t style='left:1170.96px;top:307.00px;font-size:35.5px;line-height:40px;font-weight:400;color:#15151f;transform:scaleX(0.9850)'>71<span class=dp>.</span>8</div><div class=t style='left:1358.96px;top:307.00px;font-size:35.5px;line-height:40px;font-weight:400;color:#15151f;transform:scaleX(0.9850)'>20<span class=dp>.</span>5</div><div class=t style='left:812.10px;top:355.00px;font-size:35.5px;line-height:40px;font-weight:400;color:#15151f;transform:scaleX(0.9048)'>Thiamin, mg</div><div class=t style='left:1190.66px;top:355.00px;font-size:35.5px;line-height:40px;font-weight:400;color:#15151f;transform:scaleX(0.9850)'>0<span class=dp>.</span>8</div><div class=t style='left:1378.66px;top:355.00px;font-size:35.5px;line-height:40px;font-weight:400;color:#15151f;transform:scaleX(0.9850)'>0<span class=dp>.</span>2</div><div class=t style='left:810.21px;top:403.00px;font-size:35.5px;line-height:40px;font-weight:400;color:#15151f;transform:scaleX(0.9286)'>Riboflavin, mg</div><div class=t style='left:1189.94px;top:403.00px;font-size:35.5px;line-height:40px;font-weight:400;color:#15151f;transform:scaleX(0.9850)'>0<span class=dp>.</span>85</div><div class=t style='left:1378.66px;top:403.00px;font-size:35.5px;line-height:40px;font-weight:400;color:#15151f;transform:scaleX(0.9850)'>0<span class=dp>.</span>2</div><div class=t style='left:813.00px;top:452.00px;font-size:35.5px;line-height:40px;font-weight:400;color:#15151f;transform:scaleX(0.9366)'>Vitamin B<span class=sm>6</span>, mg</div><div class=t style='left:1190.66px;top:452.00px;font-size:35.5px;line-height:40px;font-weight:400;color:#15151f;transform:scaleX(0.9850)'>1<span class=dp>.</span>4</div><div class=t style='left:1378.66px;top:452.00px;font-size:35.5px;line-height:40px;font-weight:400;color:#15151f;transform:scaleX(0.9850)'>0<span class=dp>.</span>4</div><div class=t style='left:813.00px;top:500.00px;font-size:35.5px;line-height:40px;font-weight:400;color:#15151f;transform:scaleX(0.9431)'>Vitamin B<span class=sm>12</span>, mcg</div><div class=t style='left:1190.66px;top:500.00px;font-size:35.5px;line-height:40px;font-weight:400;color:#15151f;transform:scaleX(0.9850)'>2<span class=dp>.</span>7</div><div class=t style='left:1378.66px;top:500.00px;font-size:35.5px;line-height:40px;font-weight:400;color:#15151f;transform:scaleX(0.9850)'>0<span class=dp>.</span>8</div><div class=t style='left:810.24px;top:548.00px;font-size:35.5px;line-height:40px;font-weight:400;color:#15151f;transform:scaleX(0.9214)'>Niacin, mg</div><div class=t style='left:1190.27px;top:548.00px;font-size:35.5px;line-height:40px;font-weight:400;color:#15151f;transform:scaleX(0.9850)'>5</div><div class=t style='left:1378.66px;top:548.00px;font-size:35.5px;line-height:40px;font-weight:400;color:#15151f;transform:scaleX(0.9850)'>1<span class=dp>.</span>4</div><div class=t style='left:810.26px;top:596.00px;font-size:35.5px;line-height:40px;font-weight:400;color:#15151f;transform:scaleX(0.9140)'>Folic Acid, mcg</div><div class=t style='left:1150.87px;top:596.00px;font-size:35.5px;line-height:40px;font-weight:400;color:#15151f;transform:scaleX(0.9850)'>430</div><div class=t style='left:1340.24px;top:596.00px;font-size:35.5px;line-height:40px;font-weight:400;color:#15151f;transform:scaleX(0.9850)'>122<span class=dp>.</span>9</div><div class=t style='left:810.20px;top:644.00px;font-size:35.5px;line-height:40px;font-weight:400;color:#15151f;transform:scaleX(0.9329)'>Pantothenic Acid, mg</div><div class=t style='left:1190.66px;top:644.00px;font-size:35.5px;line-height:40px;font-weight:400;color:#15151f;transform:scaleX(0.9850)'>4<span class=dp>.</span>3</div><div class=t style='left:1378.66px;top:644.00px;font-size:35.5px;line-height:40px;font-weight:400;color:#15151f;transform:scaleX(0.9850)'>1<span class=dp>.</span>2</div><div class=t style='left:810.17px;top:692.00px;font-size:35.5px;line-height:40px;font-weight:400;color:#15151f;transform:scaleX(0.9425)'>Biotin, mcg</div><div class=t style='left:1170.96px;top:692.00px;font-size:35.5px;line-height:40px;font-weight:400;color:#15151f;transform:scaleX(0.9850)'>21<span class=dp>.</span>4</div><div class=t style='left:1378.66px;top:692.00px;font-size:35.5px;line-height:40px;font-weight:400;color:#15151f;transform:scaleX(0.9850)'>6<span class=dp>.</span>1</div><div class=t style='left:813.00px;top:741.00px;font-size:35.5px;line-height:40px;font-weight:400;color:#15151f;transform:scaleX(0.9206)'>Vitamin C, mg</div><div class=t style='left:1170.96px;top:741.00px;font-size:35.5px;line-height:40px;font-weight:400;color:#15151f;transform:scaleX(0.9850)'>54<span class=dp>.</span>3</div><div class=t style='left:1358.96px;top:741.00px;font-size:35.5px;line-height:40px;font-weight:400;color:#15151f;transform:scaleX(0.9850)'>15<span class=dp>.</span>5</div><div class=t style='left:811.16px;top:789.00px;font-size:35.5px;line-height:40px;font-weight:400;color:#15151f;transform:scaleX(0.9176)'>Choline, mg</div><div class=t style='left:1150.87px;top:789.00px;font-size:35.5px;line-height:40px;font-weight:400;color:#15151f;transform:scaleX(0.9850)'>376</div><div class=t style='left:1339.26px;top:789.00px;font-size:35.5px;line-height:40px;font-weight:400;color:#15151f;transform:scaleX(0.9850)'>107<span class=dp>.</span>4</div><div class=t style='left:811.40px;top:837.00px;font-size:35.5px;line-height:40px;font-weight:400;color:#15151f;transform:scaleX(0.9324)'>Inositol, mg</div><div class=t style='left:1170.57px;top:837.00px;font-size:35.5px;line-height:40px;font-weight:400;color:#15151f;transform:scaleX(0.9850)'>70</div><div class=t style='left:1359.57px;top:837.00px;font-size:35.5px;line-height:40px;font-weight:400;color:#15151f;transform:scaleX(0.9850)'>20</div><div class=t style='left:811.19px;top:933.00px;font-size:35.5px;line-height:40px;font-weight:400;color:#15151f;transform:scaleX(0.9026)'>Calcium, mg</div><div class=t style='left:1132.15px;top:933.00px;font-size:35.5px;line-height:40px;font-weight:400;color:#15151f;transform:scaleX(0.9850)'>1035</div><div class=t style='left:1339.87px;top:933.00px;font-size:35.5px;line-height:40px;font-weight:400;color:#15151f;transform:scaleX(0.9850)'>296</div><div class=t style='left:810.28px;top:981.00px;font-size:35.5px;line-height:40px;font-weight:400;color:#15151f;transform:scaleX(0.9080)'>Phosphorus, mg</div><div class=t style='left:1150.87px;top:981.00px;font-size:35.5px;line-height:40px;font-weight:400;color:#15151f;transform:scaleX(0.9850)'>995</div><div class=t style='left:1339.87px;top:981.00px;font-size:35.5px;line-height:40px;font-weight:400;color:#15151f;transform:scaleX(0.9850)'>284</div><div class=t style='left:810.26px;top:1029.00px;font-size:35.5px;line-height:40px;font-weight:400;color:#15151f;transform:scaleX(0.9119)'>Magnesium, mg</div><div class=t style='left:1150.87px;top:1029.00px;font-size:35.5px;line-height:40px;font-weight:400;color:#15151f;transform:scaleX(0.9850)'>268</div><div class=t style='left:1358.96px;top:1029.00px;font-size:35.5px;line-height:40px;font-weight:400;color:#15151f;transform:scaleX(0.9850)'>76<span class=dp>.</span>6</div><div class=t style='left:811.41px;top:1077.00px;font-size:35.5px;line-height:40px;font-weight:400;color:#15151f;transform:scaleX(0.9287)'>Iron, mg</div><div class=t style='left:1170.96px;top:1077.00px;font-size:35.5px;line-height:40px;font-weight:400;color:#15151f;transform:scaleX(0.9850)'>12<span class=dp>.</span>9</div><div class=t style='left:1378.66px;top:1077.00px;font-size:35.5px;line-height:40px;font-weight:400;color:#15151f;transform:scaleX(0.9850)'>3<span class=dp>.</span>7</div><div class=t style='left:812.09px;top:1125.00px;font-size:35.5px;line-height:40px;font-weight:400;color:#15151f;transform:scaleX(0.9096)'>Zinc, mg</div><div class=t style='left:1190.66px;top:1125.00px;font-size:35.5px;line-height:40px;font-weight:400;color:#15151f;transform:scaleX(0.9850)'>7<span class=dp>.</span>9</div><div class=t style='left:1378.66px;top:1125.00px;font-size:35.5px;line-height:40px;font-weight:400;color:#15151f;transform:scaleX(0.9850)'>2<span class=dp>.</span>3</div><div class=t style='left:810.30px;top:1173.00px;font-size:35.5px;line-height:40px;font-weight:400;color:#15151f;transform:scaleX(0.9000)'>Manganese, mg</div><div class=t style='left:1190.66px;top:1173.00px;font-size:35.5px;line-height:40px;font-weight:400;color:#15151f;transform:scaleX(0.9850)'>1<span class=dp>.</span>6</div><div class=t style='left:1378.66px;top:1173.00px;font-size:35.5px;line-height:40px;font-weight:400;color:#15151f;transform:scaleX(0.9850)'>0<span class=dp>.</span>5</div><div class=t style='left:811.19px;top:1221.00px;font-size:35.5px;line-height:40px;font-weight:400;color:#15151f;transform:scaleX(0.9072)'>Copper, mcg</div><div class=t style='left:1150.87px;top:1221.00px;font-size:35.5px;line-height:40px;font-weight:400;color:#15151f;transform:scaleX(0.9850)'>720</div><div class=t style='left:1339.87px;top:1221.00px;font-size:35.5px;line-height:40px;font-weight:400;color:#15151f;transform:scaleX(0.9850)'>206</div><div class=t style='left:811.47px;top:1269.00px;font-size:35.5px;line-height:40px;font-weight:400;color:#15151f;transform:scaleX(0.9097)'>Iodine, mcg</div><div class=t style='left:1153.83px;top:1269.00px;font-size:35.5px;line-height:40px;font-weight:400;color:#15151f;transform:scaleX(0.9850)'>115</div><div class=t style='left:1358.96px;top:1269.00px;font-size:35.5px;line-height:40px;font-weight:400;color:#15151f;transform:scaleX(0.9850)'>32<span class=dp>.</span>9</div><div class=t style='left:810.21px;top:1317.00px;font-size:35.5px;line-height:40px;font-weight:400;color:#15151f;transform:scaleX(0.9291)'>Molybdenum, mcg</div><div class=t style='left:1170.96px;top:1317.00px;font-size:35.5px;line-height:40px;font-weight:400;color:#15151f;transform:scaleX(0.9850)'>32<span class=dp>.</span>4</div><div class=t style='left:1378.66px;top:1317.00px;font-size:35.5px;line-height:40px;font-weight:400;color:#15151f;transform:scaleX(0.9850)'>9<span class=dp>.</span>3</div><div class=t style='left:811.16px;top:1365.00px;font-size:35.5px;line-height:40px;font-weight:400;color:#15151f;transform:scaleX(0.9214)'>Chromium, mcg</div><div class=t style='left:1170.96px;top:1365.00px;font-size:35.5px;line-height:40px;font-weight:400;color:#15151f;transform:scaleX(0.9850)'>22<span class=dp>.</span>8</div><div class=t style='left:1378.66px;top:1365.00px;font-size:35.5px;line-height:40px;font-weight:400;color:#15151f;transform:scaleX(0.9850)'>6<span class=dp>.</span>5</div><div class=t style='left:811.22px;top:1413.00px;font-size:35.5px;line-height:40px;font-weight:400;color:#15151f;transform:scaleX(0.8886)'>Selenium, mcg</div><div class=t style='left:1170.96px;top:1413.00px;font-size:35.5px;line-height:40px;font-weight:400;color:#15151f;transform:scaleX(0.9850)'>50<span class=dp>.</span>8</div><div class=t style='left:1358.96px;top:1413.00px;font-size:35.5px;line-height:40px;font-weight:400;color:#15151f;transform:scaleX(0.9850)'>14<span class=dp>.</span>5</div><div class=t style='left:811.21px;top:1461.00px;font-size:35.5px;line-height:40px;font-weight:400;color:#15151f;transform:scaleX(0.8956)'>Sodium, mg</div><div class=t style='left:1150.87px;top:1461.00px;font-size:35.5px;line-height:40px;font-weight:400;color:#15151f;transform:scaleX(0.9850)'>490</div><div class=t style='left:1339.87px;top:1461.00px;font-size:35.5px;line-height:40px;font-weight:400;color:#15151f;transform:scaleX(0.9850)'>140</div><div class=t style='left:810.31px;top:1509.00px;font-size:35.5px;line-height:40px;font-weight:400;color:#15151f;transform:scaleX(0.8969)'>Potassium, mg</div><div class=t style='left:1150.87px;top:1509.00px;font-size:35.5px;line-height:40px;font-weight:400;color:#15151f;transform:scaleX(0.9850)'>613</div><div class=t style='left:1339.87px;top:1509.00px;font-size:35.5px;line-height:40px;font-weight:400;color:#15151f;transform:scaleX(0.9850)'>175</div><div class=t style='left:811.15px;top:1557.00px;font-size:35.5px;line-height:40px;font-weight:400;color:#15151f;transform:scaleX(0.9237)'>Chloride, mg</div><div class=t style='left:1150.87px;top:1557.00px;font-size:35.5px;line-height:40px;font-weight:400;color:#15151f;transform:scaleX(0.9850)'>490</div><div class=t style='left:1339.87px;top:1557.00px;font-size:35.5px;line-height:40px;font-weight:400;color:#15151f;transform:scaleX(0.9850)'>140</div><div class=t style='left:811.62px;top:885.00px;font-size:35px;line-height:39px;font-weight:700;color:#1a2b78;transform:scaleX(0.9413);-webkit-text-stroke:0.45px'>Minerals</div>
</body></html>
